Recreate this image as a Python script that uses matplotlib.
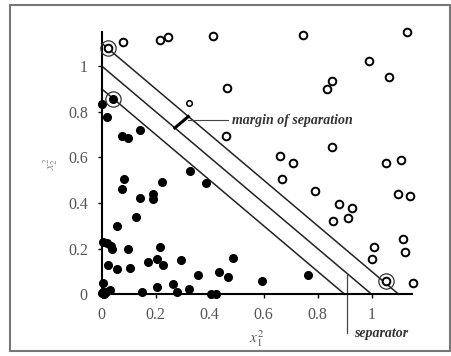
import numpy as np
import matplotlib.pyplot as plt
from matplotlib.patches import Rectangle

plt.rcParams["mathtext.fontset"] = "stix"

# class 1 (filled)
filled_x = [0.0, 0.019, 0.043, 0.074, 0.096, 0.14, 0.083, 0.077, 0.058, 0.14,
            0.126, 0.189, 0.189, 0.225, 0.326, 0.385, 0.006, 0.021, 0.033, 0.037,
            0.099, 0.217, 0.022, 0.058, 0.105, 0.173, 0.204, 0.228, 0.294, 0.356,
            0.435, 0.469, 0.488, 0.594, 0.764, 0.006, 0.204, 0.265, 0.278, 0.323,
            0.148, 0.405, 0.423, 0.0, 0.009, 0.016, 0.031, 0.006]
filled_y = [0.835, 0.775, 0.854, 0.693, 0.686, 0.72, 0.505, 0.463, 0.299, 0.423,
            0.337, 0.439, 0.416, 0.493, 0.539, 0.486, 0.228, 0.223, 0.213, 0.197,
            0.2, 0.206, 0.128, 0.112, 0.117, 0.14, 0.153, 0.128, 0.149, 0.083,
            0.098, 0.077, 0.161, 0.058, 0.083, 0.05, 0.034, 0.047, 0.009, 0.025,
            0.009, 0.003, 0.003, 0.004, 0.001, 0.009, 0.019, 0.012]

# class 2 (open)
open_x = [0.025, 0.08, 0.216, 0.247, 0.414, 0.744, 1.13, 0.99, 1.064, 0.853,
          0.833, 0.464, 0.459, 0.854, 0.66, 0.707, 0.667, 0.791, 0.878, 0.927,
          0.856, 0.912, 1.053, 1.109, 1.099, 1.14, 1.117, 1.125, 1.01, 1.002,
          1.052, 1.152]
open_y = [1.08, 1.104, 1.114, 1.128, 1.131, 1.137, 1.147, 1.022, 0.953, 0.936,
          0.899, 0.904, 0.693, 0.644, 0.607, 0.574, 0.507, 0.454, 0.397, 0.378,
          0.323, 0.333, 0.574, 0.588, 0.438, 0.431, 0.242, 0.184, 0.207, 0.153,
          0.058, 0.051]
small_open_x = [0.325]
small_open_y = [0.836]

# support vectors
sv_x = [0.025, 0.043, 1.052]
sv_y = [1.08, 0.854, 0.058]

# x1^2 + x2^2 = c  (lower margin, separator, upper margin)
intercepts = [0.9, 1.0, 1.1]

fig = plt.figure(figsize=(4.51, 3.56), dpi=100)
ax = fig.add_axes([0.2255, 0.1733, 0.6885, 0.7374])

for c in intercepts:
    xs = np.array([0, c])
    ax.plot(xs, c - xs, color="#222222", lw=1.1, clip_on=False)

ax.plot(filled_x, filled_y, "o", ms=5.5, color="black", clip_on=False, zorder=3)
ax.plot(open_x, open_y, "o", ms=5.5, mfc="white", mec="black", mew=1.4,
        clip_on=False, zorder=3)
ax.plot(small_open_x, small_open_y, "o", ms=4, mfc="white", mec="black",
        mew=1.1, clip_on=False, zorder=3)
ax.plot(sv_x, sv_y, "o", ms=11, mfc="none", mec="#333333", mew=0.9,
        clip_on=False, zorder=4)

# margin of separation marker
ax.plot([0.271, 0.321], [0.729, 0.779], color="black", lw=2.2)
ax.plot([0.32, 0.467], [0.763, 0.763], color="#444444", lw=0.8)
ax.text(0.481, 0.763, "margin of separation", family="Liberation Serif",
        style="italic", weight="bold", fontsize=10, color="#333333",
        va="center", ha="left")

# separator marker
ax.plot([0.91, 0.91], [0.085, -0.17], color="#444444", lw=0.9, clip_on=False)
ax.text(0.935, -0.17, "separator", family="Liberation Serif",
        style="italic", weight="bold", fontsize=10, color="#333333",
        va="center", ha="left")

ax.set_xlim(0, 1.15)
ax.set_ylim(0, 1.15)
ax.set_xticks([0, 0.2, 0.4, 0.6, 0.8, 1])
ax.set_xticklabels(["0", "0.2", "0.4", "0.6", "0.8", "1"])
ax.set_yticks([0, 0.2, 0.4, 0.6, 0.8, 1])
ax.set_yticklabels(["0", "0.2", "0.4", "0.6", "0.8", "1"])
for s in ["top", "right"]:
    ax.spines[s].set_visible(False)
for s in ["left", "bottom"]:
    ax.spines[s].set_linewidth(1.5)
ax.tick_params(direction="out", length=3, width=1, labelsize=11.5,
               labelcolor="#555555")
ax.tick_params(axis="x", pad=6)
ax.tick_params(axis="y", pad=7)
for lab in ax.get_xticklabels() + ax.get_yticklabels():
    lab.set_family("Liberation Serif")

ax.set_xlabel(r"$x_1^2$", fontsize=11, color="#555555", labelpad=4)
ax.set_ylabel(r"$x_2^2$", fontsize=9, color="#888888", labelpad=6)

# outer frame
fig.patches.append(Rectangle((9.5 / 451, 5 / 356), 440 / 451, 346 / 356,
                             transform=fig.transFigure, fill=False,
                             ec="#777777", lw=1.5))

fig.savefig("out.png", dpi=100)
